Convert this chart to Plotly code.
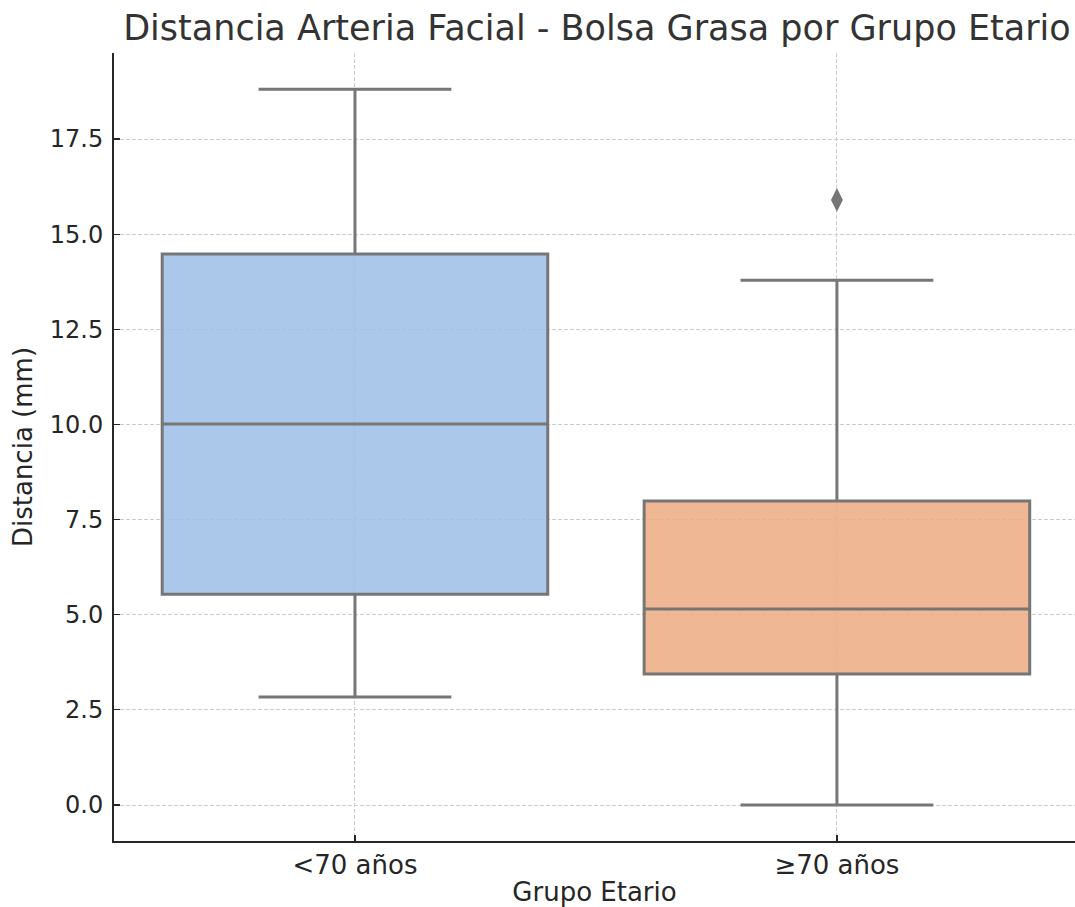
import plotly.graph_objects as go

# ---- data ----
groups = ["<70 años", "≥70 años"]
q1_vals = [5.54, 3.44]
median_vals = [10.01, 5.15]
q3_vals = [14.48, 7.99]
lower_whisker = [2.84, 0.0]
upper_whisker = [18.81, 13.79]
outlier_groups = ["≥70 años"]
outlier_vals = [15.90]
# slightly translucent fills so that the grid shows through as in the reference
fill_colors = ["rgba(156,190,231,0.85)", "rgba(236,170,128,0.85)"]

y_tickvals = [0.0, 2.5, 5.0, 7.5, 10.0, 12.5, 15.0, 17.5]
y_ticktext = ["0.0", "2.5", "5.0", "7.5", "10.0", "12.5", "15.0", "17.5"]

LINE = "#767676"
FONT = "DejaVu Sans"
GRID = "#cccccc"

fig = go.Figure()
for i, g in enumerate(groups):
    fig.add_trace(go.Box(
        x=[g], q1=[q1_vals[i]], median=[median_vals[i]], q3=[q3_vals[i]],
        lowerfence=[lower_whisker[i]], upperfence=[upper_whisker[i]],
        fillcolor=fill_colors[i], line=dict(color=LINE, width=3),
        width=0.8, whiskerwidth=0.5, boxpoints=False, showlegend=False,
        hoverinfo="skip",
    ))

fig.add_trace(go.Scatter(
    x=outlier_groups, y=outlier_vals, mode="markers",
    marker=dict(symbol="diamond-tall", size=17, color=LINE, line=dict(width=0)),
    showlegend=False, hoverinfo="skip",
))

fig.update_layout(
    width=1075, height=907,
    margin=dict(l=114, r=0, t=53, b=66, autoexpand=False),
    paper_bgcolor="white", plot_bgcolor="white",
    boxmode="overlay",
    title=dict(text="Distancia Arteria Facial - Bolsa Grasa por Grupo Etario",
               font=dict(family=FONT, size=35, color="#333333"),
               x=0.5553, xanchor="center", y=1 - 28 / 907, yanchor="middle",
               xref="container", yref="container"),
    font=dict(family=FONT, color="#262626"),
)

fig.update_xaxes(
    type="category", categoryorder="array", categoryarray=groups,
    range=[-0.5, 1.494], showgrid=True, gridcolor=GRID, gridwidth=1, griddash="4px,2px",
    zeroline=False,
    showline=True, linecolor="#262626", linewidth=2,
    ticks="inside", ticklen=6, tickcolor="#262626", tickwidth=1.2,
    tickfont=dict(family=FONT, size=26, color="#262626"),
    title=dict(text="Grupo Etario", font=dict(family=FONT, size=26, color="#262626"), standoff=9),
)
fig.update_yaxes(
    range=[-0.946, 19.76], showgrid=True, gridcolor=GRID, gridwidth=1, griddash="4px,2px",
    zeroline=False,
    showline=True, linecolor="#262626", linewidth=2,
    ticks="inside", ticklen=6, tickcolor="#262626", tickwidth=1.2,
    tickvals=y_tickvals, ticktext=y_ticktext,
    tickfont=dict(family=FONT, size=24, color="#262626"),
    ticklabelstandoff=4,
    title=dict(text="Distancia (mm)", font=dict(family=FONT, size=26, color="#262626"), standoff=10),
)

fig.write_html("out.html",
               config={"displayModeBar": False, "staticPlot": True},
               post_script="document.body.style.margin='0';document.body.style.overflow='hidden';")
